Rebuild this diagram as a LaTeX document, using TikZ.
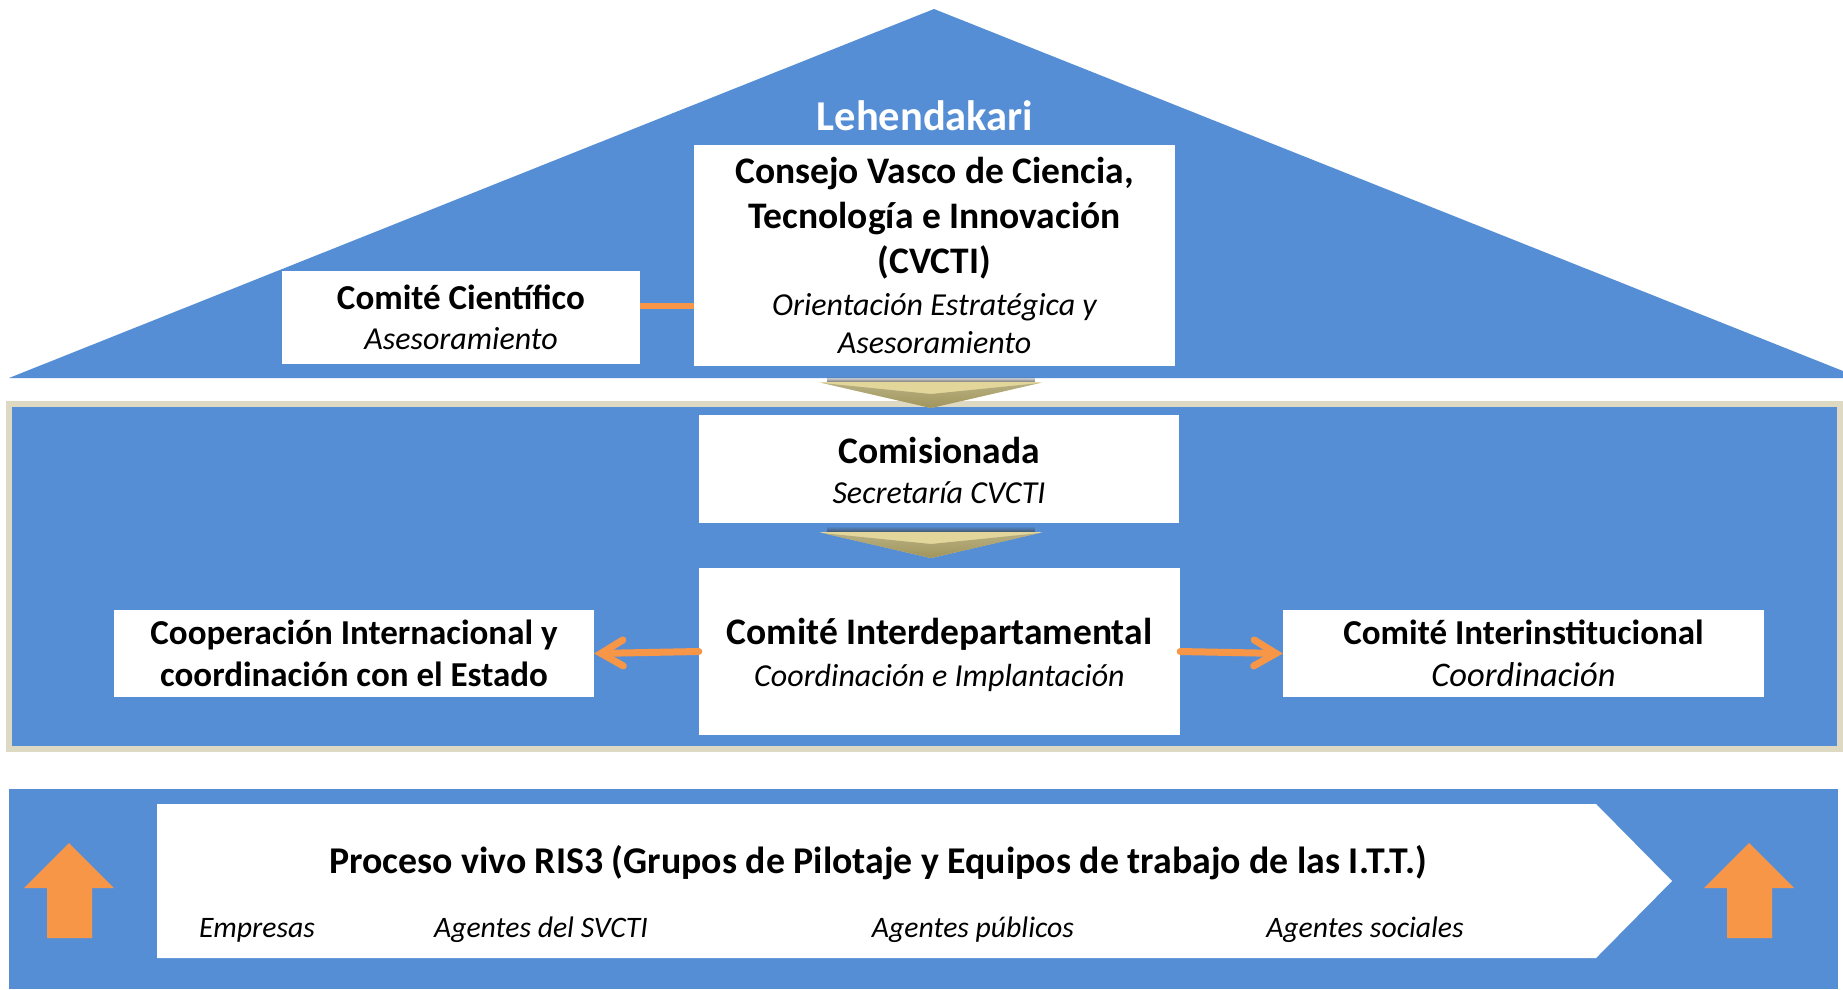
\documentclass[tikz,border=0pt]{standalone}
\usepackage{fontspec}
\setmainfont{Carlito}
\usetikzlibrary{arrows.meta,fadings}
\definecolor{bblue}{HTML}{558ED5}
\definecolor{orng}{HTML}{F79646}
\definecolor{beigeb}{HTML}{DDD9C3}
\definecolor{goldlt}{HTML}{E2D69A}
\definecolor{golddk}{HTML}{A0955A}
\tikzfading[name=shadowup, top color=transparent!100, bottom color=transparent!30]
\newcommand\mysub[2][32]{{\fontsize{#1}{42}\selectfont\itshape #2}}
\newcommand\myttl[2][37.5]{{\fontsize{#1}{42}\selectfont\bfseries #2}}
\newcommand\mylower[2]{\raisebox{-#1}[\height][\depth]{#2}}
\begin{document}
\begin{tikzpicture}[x=1pt,y=-1pt,
  wbox/.style={fill=white, draw=none, inner sep=0pt, align=center, text=black,
    font=\fontsize{36}{42}\selectfont},
  orlink/.style={draw=orng, line width=7pt, line cap=round},
  orarrow/.style={orlink, -{Straight Barb[length=22pt,width=26pt,line cap=round]}},
  agent/.style={font=\fontsize{29.7}{36}\selectfont\itshape, inner sep=0pt},
  chev/.pic={
    \fill[black!75, path fading=shadowup] (-104,-6) rectangle (104,0);
    \fill[goldlt] (-112,0) -- (112,0) -- (0,26) -- cycle;
    \shade[top color=golddk!75, bottom color=golddk] (-109,1) -- (0,12) -- (109,1) -- (0,26) -- cycle;
  },
  uparrow/.pic={
    \fill[orng] (0,0) -- (45,45) -- (23,45) -- (23,95) -- (-22,95) -- (-22,45) -- (-45,45) -- cycle;
  }
]
\useasboundingbox (0,0) rectangle (1843,989);
\fill[white] (0,0) rectangle (1843,989);

% roof
\fill[bblue] (9,378) -- (934,9) -- (1843,371) -- (1843,378) -- cycle;
\node[text=white, font=\fontsize{42.5}{48}\selectfont\bfseries, inner sep=0pt] (lehen) at (925,116) {Lehendakari};

\node[wbox, minimum width=481, minimum height=221] (cvcti) at (934.5,255.5)
  {\myttl{Consejo Vasco de Ciencia,}\\[3pt] \myttl{Tecnología e Innovación}\\[3pt] \myttl{(CVCTI)}\\ \mysub{Orientación Estratégica y}\\[-4pt] \mysub{Asesoramiento}};
\node[wbox, minimum width=358, minimum height=93] (cc) at (461,317.5)
  {\myttl[35]{Comité Científico}\\[-2pt] \mysub{Asesoramiento}};
\draw[draw=orng, line width=6pt] ([yshift=11.5pt]cc.east) -- ([yshift=11.5pt]cc.east -| cvcti.west);

% middle panel
\filldraw[fill=bblue, draw=beigeb, line width=5.5pt] (8.75,403.75) rectangle (1840,749);
\pic at (931,382) {chev};

\node[wbox, minimum width=480, minimum height=108] (comis) at (939,469)
  {\mylower{2pt}{\myttl{Comisionada}}\\ \mysub{Secretaría CVCTI}};
\pic at (931,532) {chev};

\node[wbox, minimum width=481, minimum height=167] (interdep) at (939.5,651.5)
  {\mylower{3.5pt}{\myttl{Comité Interdepartamental}}\\ \mylower{3pt}{\mysub{Coordinación e Implantación}}};
\node[wbox, minimum width=480, minimum height=87] (coop) at (354,653.5)
  {\myttl[35]{Cooperación Internacional y}\\ \myttl[35]{coordinación con el Estado}};
\node[wbox, minimum width=481, minimum height=87] (interinst) at (1523.5,653.5)
  {\myttl[35]{Comité Interinstitucional}\\ \mysub[34.5]{Coordinación}};

\draw[orarrow] (interdep.west) -- (coop.east);
\draw[orarrow] (interdep.east) -- (interinst.west);

% bottom band
\fill[bblue] (9,789) rectangle (1838,989);
\fill[white] (157,804) -- (1596,804) -- (1672,881) -- (1596,958) -- (157,958) -- cycle;
\node[font=\fontsize{37.8}{44}\selectfont\bfseries, inner sep=0pt] (ris3) at (878,863)
  {Proceso vivo RIS3 (Grupos de Pilotaje y Equipos de trabajo de las I.T.T.)};
\node[agent] (emp) at (257,930) {Empresas};
\node[agent] (svcti) at (541,930) {Agentes del SVCTI};
\node[agent] (pub) at (973,930) {Agentes públicos};
\node[agent] (soc) at (1365,930) {Agentes sociales};
\pic at (69,843) {uparrow};
\pic at (1749,843) {uparrow};
\end{tikzpicture}
\end{document}
